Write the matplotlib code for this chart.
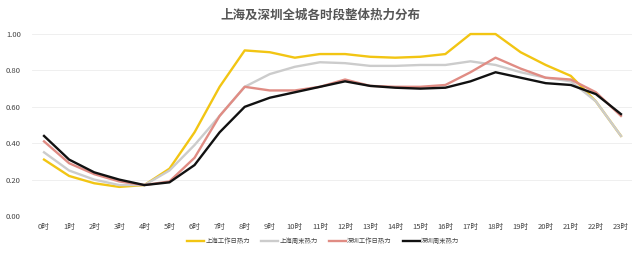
import matplotlib.pyplot as plt

plt.rcParams['font.family'] = ['Noto Sans CJK SC', 'DejaVu Sans']

# 数据
hours = [f"{h}时" for h in range(24)]
sh_workday = [0.31, 0.22, 0.18, 0.16, 0.17, 0.26, 0.46, 0.71, 0.91, 0.90, 0.87, 0.89,
              0.89, 0.875, 0.87, 0.875, 0.89, 1.00, 1.00, 0.90, 0.83, 0.77, 0.63, 0.44]
sh_weekend = [0.35, 0.25, 0.20, 0.17, 0.17, 0.25, 0.39, 0.55, 0.71, 0.78, 0.82, 0.845,
              0.84, 0.825, 0.825, 0.83, 0.83, 0.85, 0.83, 0.79, 0.76, 0.74, 0.63, 0.44]
sz_workday = [0.41, 0.29, 0.23, 0.19, 0.17, 0.19, 0.32, 0.55, 0.71, 0.69, 0.69, 0.71,
              0.75, 0.715, 0.71, 0.71, 0.72, 0.79, 0.87, 0.81, 0.76, 0.75, 0.68, 0.55]
sz_weekend = [0.44, 0.31, 0.24, 0.20, 0.17, 0.185, 0.28, 0.46, 0.60, 0.65, 0.68, 0.71,
              0.74, 0.715, 0.705, 0.70, 0.705, 0.74, 0.79, 0.76, 0.73, 0.72, 0.67, 0.56]
labels = ["上海工作日热力", "上海周末热力", "深圳工作日热力", "深圳周末热力"]
colors = ["#f2c513", "#cccccc", "#e08c84", "#111111"]

fig = plt.figure(figsize=(6.4, 2.54), dpi=100)
ax = fig.add_axes([0.05, 0.1496, 0.9375, 0.7164])

x = list(range(len(hours)))
for ys, lab, col in zip([sh_workday, sh_weekend, sz_workday, sz_weekend], labels, colors):
    ax.plot(x, ys, color=col, linewidth=1.7, label=lab, clip_on=False, zorder=3)

ax.set_xlim(-0.48, 23.44)
ax.set_ylim(0, 1)
ax.set_yticks([0, 0.2, 0.4, 0.6, 0.8, 1.0])
ax.set_yticklabels([f"{v:.2f}" for v in [0, 0.2, 0.4, 0.6, 0.8, 1.0]])
ax.set_xticks(x)
ax.set_xticklabels(hours)
ax.tick_params(axis="both", length=0, labelsize=5.5, labelcolor="#444444")
ax.tick_params(axis="x", pad=5)
ax.tick_params(axis="y", pad=8)
ax.grid(axis="y", color="#ececec", linewidth=0.6)
ax.set_axisbelow(True)
for s in ax.spines.values():
    s.set_visible(False)

fig.text(0.5, 0.94, "上海及深圳全城各时段整体热力分布", ha="center", va="center",
         fontsize=9, fontweight="bold", color="#555555")

fig.legend(loc="center", bbox_to_anchor=(0.505, 0.05), ncol=4, frameon=False,
           fontsize=4.6, handlelength=2.6, columnspacing=1.8, handletextpad=0.2,
           labelcolor="#444444")

fig.savefig("out.png", dpi=100)
